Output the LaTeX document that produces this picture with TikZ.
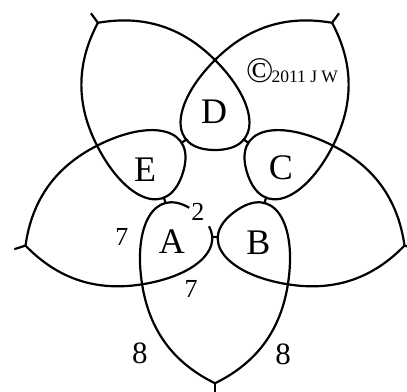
\documentclass[tikz,border=0pt]{standalone}
\usepackage{fontspec}
\setmainfont{Liberation Serif}
\tikzset{
  thread/.style={line width=2.2pt, line join=round},
  ringname/.style={font=\fontsize{36}{36}\selectfont, inner sep=0pt},
  count/.style={font=\fontsize{26}{26}\selectfont, inner sep=0pt},
  bigcount/.style={font=\fontsize{31}{31}\selectfont, inner sep=0pt}
}
\begin{document}
\begin{tikzpicture}[x=1pt,y=1pt]
  \useasboundingbox (-215,-207) rectangle (192,184);

  % picots at the tips and joins between the rings
  \foreach \a in {0,72,144,216,288} {
    \begin{scope}[rotate=\a]
      \coordinate (tip\a) at (54:199.3);
      \draw[thread] (tip\a) -- (54:211);
      \draw[thread] (58:53) -- (50:53);
    \end{scope}
  }

  % chain out to the tips with a closed ring (D, E, B, C)
  \foreach \a in {0,72,216,288} {
    \begin{scope}[rotate=\a]
      \draw[thread] (-117.1,161.2) .. controls (-69.8,169.5) and (-31.8,155.8) .. (0,124)
        .. controls (43.8,80.2) and (48,34) .. (0,34)
        .. controls (-48,34) and (-43.8,80.2) .. (0,124)
        .. controls (31.8,155.8) and (69.8,169.5) .. (117.1,161.2);
    \end{scope}
  }

  % ring A is left open where it starts
  \begin{scope}[rotate=144]
    \draw[thread] (-117.1,161.2) .. controls (-69.8,169.5) and (-31.8,155.8) .. (0,124)
      .. controls (41.61,82.39) and (47.48,38.61) .. (6.81,34.34);
    \draw[thread] (-20.02,37.76) .. controls (-45.43,49.64) and (-36.35,87.65) .. (0,124)
      .. controls (31.8,155.8) and (69.8,169.5) .. (117.1,161.2);
  \end{scope}

  % ring names
  \node[ringname] (D) at (-1,72.5) {D};
  \node[ringname] (E) at (-70,14.5) {E};
  \node[ringname] (A) at (-43,-57.5) {A};
  \node[ringname] (B) at (43.5,-58.5) {B};
  \node[ringname] (C) at (66,16.5) {C};

  % stitch counts
  \node[count] (n2) at (-17,-28) {2};
  \node[count] (n7l) at (-93,-53) {7};
  \node[count] (n7b) at (-24,-105) {7};
  \node[bigcount] (n8l) at (-75,-169) {8};
  \node[bigcount] (n8r) at (68,-170) {8};

  \node[anchor=base west, inner sep=0pt] (copy) at (31,101)
    {{\fontsize{36}{36}\selectfont ©}\kern-2pt{\fontsize{17.5}{18}\selectfont 2011 J W}};
\end{tikzpicture}
\end{document}
